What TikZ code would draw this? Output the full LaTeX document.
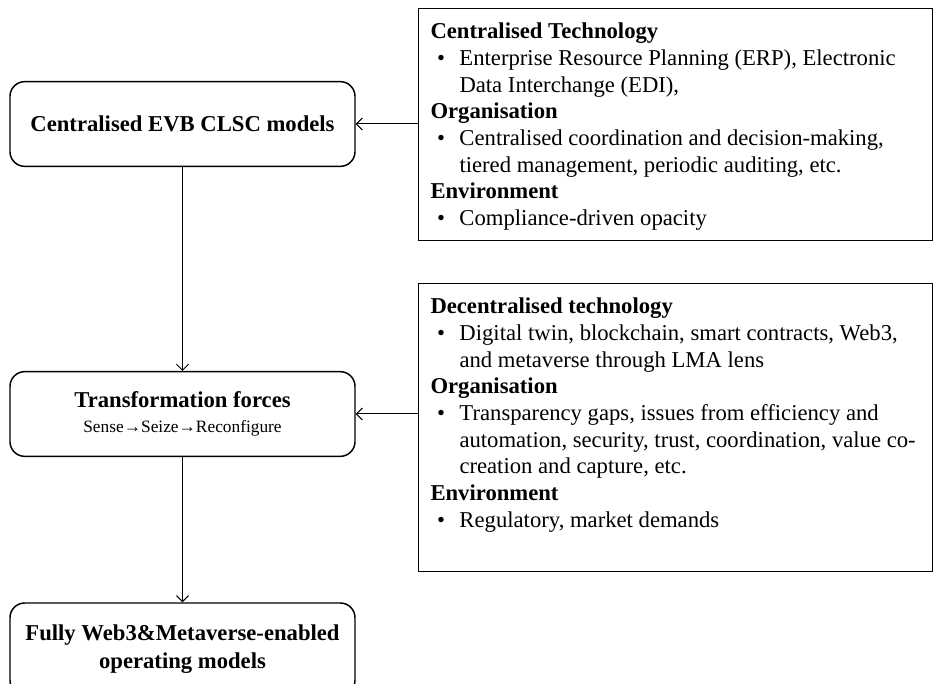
\documentclass[tikz,border=0pt]{standalone}
\usepackage{fontspec}
\setmainfont{Liberation Serif}
\usetikzlibrary{arrows.meta, positioning}
\tikzset{
    stageBox/.style={
        draw=black,
        fill=white,
        line width=1.1pt,
        rounded corners=11pt,
        minimum width=258.75pt,
        minimum height=63.5pt,
        inner sep=2pt,
        align=center,
        font=\fontsize{17}{21}\selectfont\bfseries
    },
    infoBox/.style={
        draw=black,
        line width=0.75pt,
        anchor=north west,
        inner sep=0pt
    },
    flow/.style={
        line width=0.75pt,
        -{Straight Barb[length=4.5pt, width=9pt]}
    }
}
\newcommand{\itemline}{\hspace*{5pt}\makebox[16.75pt][l]{\textbullet}}
\newcommand{\contline}{\hspace*{21.75pt}}
\newcommand{\infotext}[2]{%
    \begin{minipage}[t][#1][t]{385.5pt}%
        \fontsize{17}{20}\selectfont
        \vspace*{11pt}%
        \leftskip=9pt
        \parindent=0pt
        #2%
    \end{minipage}}

\begin{document}
\begin{tikzpicture}[x=0.75pt, y=-0.75pt]
            \useasboundingbox (0,0) rectangle (933,684);
            \clip (0,0) rectangle (933,684);

            % Stages
            \node[stageBox] (centralised) at (182.5,124) {Centralised EVB CLSC models};
            \node[stageBox] (forces) at (182.5,414) {Transformation forces\\[-2pt]
                {\fontsize{13}{15}\selectfont\mdseries Sense→Seize→Reconfigure}};
            \node[stageBox, minimum height=69pt] (operating) at (182.5,649) {Fully Web3\&Metaverse-enabled\\operating models};

            % Drivers
            \node[infoBox] (techinfo) at (418,8) {\infotext{174pt}{%
                \textbf{Centralised Technology}\par
                \itemline Enterprise Resource Planning (ERP), Electronic\par
                \contline Data Interchange (EDI),\par
                \textbf{Organisation}\par
                \itemline Centralised coordination and decision-making,\par
                \contline tiered management, periodic auditing, etc.\par
                \textbf{Environment}\par
                \itemline Compliance-driven opacity\par}};
            \node[infoBox] (forcesinfo) at (418,283) {\infotext{216pt}{%
                \textbf{Decentralised technology}\par
                \itemline Digital twin, blockchain, smart contracts, Web3,\par
                \contline and metaverse through LMA lens\par
                \textbf{Organisation}\par
                \itemline Transparency gaps, issues from efficiency and\par
                \contline automation, security, trust, coordination, value co-\par
                \contline creation and capture, etc.\par
                \textbf{Environment}\par
                \itemline Regulatory, market demands\par}};

            % Connectors
            \draw[flow] (centralised) -- (forces);
            \draw[flow] (forces) -- (operating);
            \draw[flow] (techinfo.west |- centralised.east) -- (centralised.east);
            \draw[flow] (forcesinfo.west |- forces.east) -- (forces.east);
        \end{tikzpicture}
\end{document}
